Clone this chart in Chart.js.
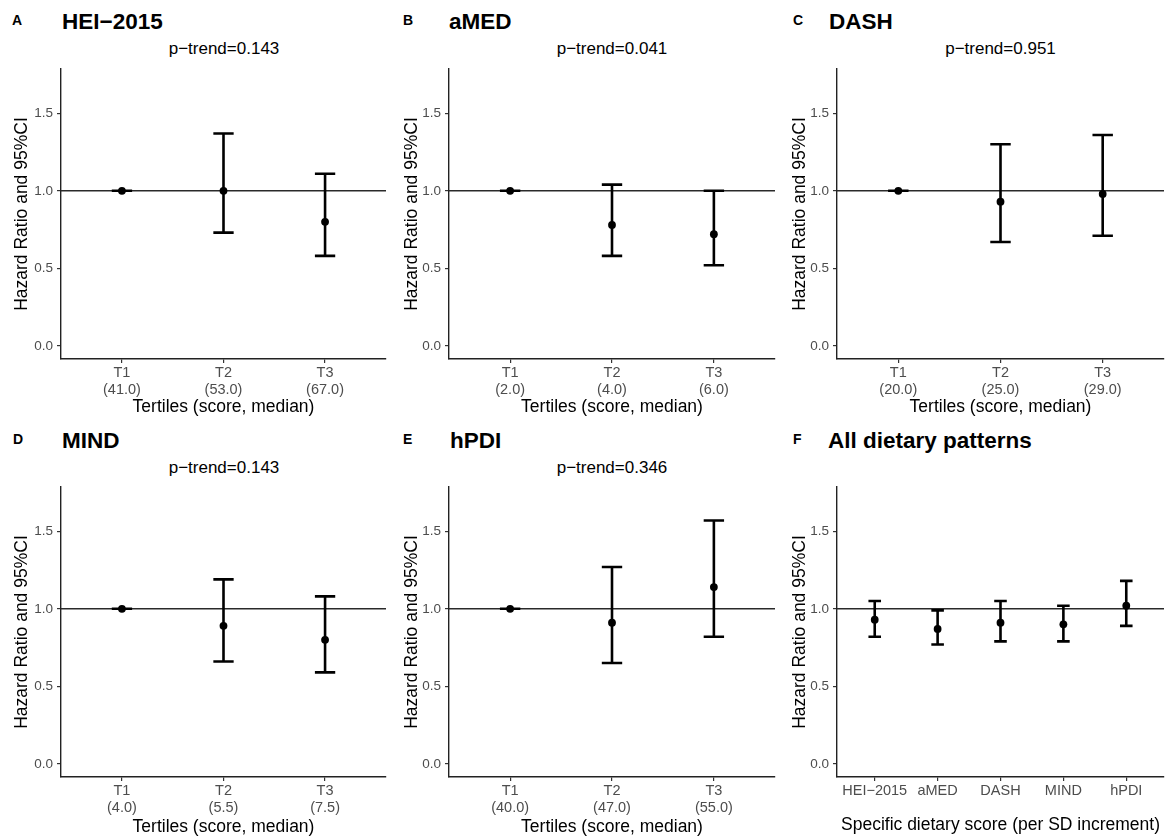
<!DOCTYPE html>
<html>
<head>
<meta charset="utf-8">
<script src="https://cdn.jsdelivr.net/npm/chart.js@4/dist/chart.umd.min.js"></script>
<style>
  html, body { margin:0; padding:0; background:#fff; }
  body { width:1169px; height:838px; position:relative; overflow:hidden; font-family:"Liberation Sans", Arial, sans-serif; }
  canvas { position:absolute; }
  .lbl { position:absolute; white-space:nowrap; line-height:1; color:#000; }
  .tag { font-weight:bold; font-size:14px; }
  .ttl { font-weight:bold; font-size:22.5px; }
  .ptr { font-size:17px; width:240px; text-align:center; }
</style>
</head>
<body>
<script>
/* hazard ratios by tertile */
const tertiles = ['T1', 'T2', 'T3'];
const yTicks = [0, 0.5, 1.0, 1.5];

const heiMedian = ['(41.0)', '(53.0)', '(67.0)'];
const heiHR   = [1.00, 1.00, 0.80];
const heiLow  = [1.00, 0.73, 0.58];
const heiHigh = [1.00, 1.37, 1.11];

const amedMedian = ['(2.0)', '(4.0)', '(6.0)'];
const amedHR   = [1.00, 0.78, 0.72];
const amedLow  = [1.00, 0.58, 0.52];
const amedHigh = [1.00, 1.04, 1.00];

const dashMedian = ['(20.0)', '(25.0)', '(29.0)'];
const dashHR   = [1.00, 0.93, 0.98];
const dashLow  = [1.00, 0.67, 0.71];
const dashHigh = [1.00, 1.30, 1.36];

const mindMedian = ['(4.0)', '(5.5)', '(7.5)'];
const mindHR   = [1.00, 0.89, 0.80];
const mindLow  = [1.00, 0.66, 0.59];
const mindHigh = [1.00, 1.19, 1.08];

const hpdiMedian = ['(40.0)', '(47.0)', '(55.0)'];
const hpdiHR   = [1.00, 0.91, 1.14];
const hpdiLow  = [1.00, 0.65, 0.82];
const hpdiHigh = [1.00, 1.27, 1.57];

const scoreNames = ['HEI\u22122015', 'aMED', 'DASH', 'MIND', 'hPDI'];
const perSdHR   = [0.93, 0.87, 0.91, 0.90, 1.02];
const perSdLow  = [0.82, 0.77, 0.79, 0.79, 0.89];
const perSdHigh = [1.05, 0.99, 1.05, 1.02, 1.18];

const pTrend = ['0.143', '0.041', '0.951', '0.143', '0.346'];

/* layout of the 2x3 grid */
const cols = [
  { left:0,   width:390, plotLeft:61,  plotRight:387,  yTitle:21.7 },
  { left:390, width:390, plotLeft:449, plotRight:775,  yTitle:22 },
  { left:780, width:389, plotLeft:837, plotRight:1164, yTitle:19.8 }
];
const rows = [
  { top:57,  height:363, plotBottom:359, dy:0,   xTitlePad:2.8 },
  { top:475, height:363, plotBottom:777, dy:419, xTitlePad:0.8 }
];

const panels = [
  { tag:'A', title:'HEI\u22122015', col:0, row:0, tagX:12,  titleX:62,  p:pTrend[0], hr:heiHR,  lo:heiLow,  hi:heiHigh,  labels:tertiles.map((t,i)=>[t, heiMedian[i]]),  xTitle:'Tertiles (score, median)' },
  { tag:'B', title:'aMED',         col:1, row:0, tagX:403, titleX:449, p:pTrend[1], hr:amedHR, lo:amedLow, hi:amedHigh, labels:tertiles.map((t,i)=>[t, amedMedian[i]]), xTitle:'Tertiles (score, median)' },
  { tag:'C', title:'DASH',         col:2, row:0, tagX:793, titleX:829, p:pTrend[2], hr:dashHR, lo:dashLow, hi:dashHigh, labels:tertiles.map((t,i)=>[t, dashMedian[i]]), xTitle:'Tertiles (score, median)' },
  { tag:'D', title:'MIND',         col:0, row:1, tagX:13,  titleX:62,  p:pTrend[3], hr:mindHR, lo:mindLow, hi:mindHigh, labels:tertiles.map((t,i)=>[t, mindMedian[i]]), xTitle:'Tertiles (score, median)' },
  { tag:'E', title:'hPDI',         col:1, row:1, tagX:403, titleX:450, p:pTrend[4], hr:hpdiHR, lo:hpdiLow, hi:hpdiHigh, labels:tertiles.map((t,i)=>[t, hpdiMedian[i]]), xTitle:'Tertiles (score, median)' },
  { tag:'F', title:'All dietary patterns', col:2, row:1, tagX:793, titleX:828, p:null, hr:perSdHR, lo:perSdLow, hi:perSdHigh, labels:scoreNames, xTitle:'Specific dietary score (per SD increment)', xTitlePad:2.8 }
];

function addText(cls, text, left, baseline, size){
  const d = document.createElement('div');
  d.className = 'lbl ' + cls;
  d.textContent = text;
  d.style.left = left + 'px';
  d.style.top = (baseline - 0.8465*size) + 'px';
  document.body.appendChild(d);
}

function drawPanel(p){
  const c = cols[p.col], r = rows[p.row];
  addText('tag', p.tag, p.tagX, 24.5 + r.dy, 14);
  addText('ttl', p.title, p.titleX, 30 + r.dy, 22.5);
  if(p.p) addText('ptr', 'p\u2212trend=' + p.p, (c.plotLeft + c.plotRight)/2 - 120, 54 + r.dy, 17);

  const cv = document.createElement('canvas');
  cv.width = c.width; cv.height = r.height;
  cv.style.left = c.left + 'px'; cv.style.top = r.top + 'px';
  cv.style.width = c.width + 'px'; cv.style.height = r.height + 'px';
  document.body.appendChild(cv);

  const n = p.hr.length;
  const xs = p.hr.map((_, i) => i + 1);
  const pts = xs.map((x, i) => ({x, y:p.hr[i]}));
  const bars = [];
  xs.forEach((x, i) => {
    bars.push({x, y:p.lo[i]}, {x, y:p.hi[i]}, {x, y:null});
    bars.push({x:x-0.1, y:p.hi[i]}, {x:x+0.1, y:p.hi[i]}, {x, y:null});
    bars.push({x:x-0.1, y:p.lo[i]}, {x:x+0.1, y:p.lo[i]}, {x, y:null});
  });
  const ref = [{x:0.4, y:1}, {x:n+0.6, y:1}];

  const yW = c.plotLeft - c.left;
  const xH = r.top + r.height - r.plotBottom;
  const xPad = p.xTitlePad !== undefined ? p.xTitlePad : r.xTitlePad;

  new Chart(cv.getContext('2d'), {
    type:'scatter',
    data:{ datasets:[
      { data:pts, pointRadius:3.9, pointBackgroundColor:'#000', pointBorderWidth:0, showLine:false },
      { data:bars, showLine:true, spanGaps:false, borderColor:'#000', borderWidth:2.6, pointRadius:0, borderCapStyle:'butt' },
      { data:ref, showLine:true, borderColor:'#2a2a2a', borderWidth:1.6, pointRadius:0 }
    ]},
    options:{
      responsive:false, animation:false, devicePixelRatio:1,
      layout:{ padding:{ top:10, left:0, bottom:0, right:c.width - (c.plotRight - c.left) } },
      plugins:{ legend:{display:false}, tooltip:{enabled:false} },
      scales:{
        x:{
          type:'linear', min:0.4, max:n+0.6,
          afterBuildTicks: s => { s.ticks = xs.map(v => ({value:v})); },
          afterFit: s => { s.height = xH; },
          ticks:{ autoSkip:false, maxRotation:0, padding:1, color:'#4d4d4d',
                  font:{ family:'"Liberation Sans", Arial, sans-serif', size:14.5 },
                  callback:(v, i) => p.labels[i] },
          grid:{ drawOnChartArea:false, drawTicks:true, tickLength:4, color:'#333', lineWidth:1.2 },
          border:{ color:'#222', width:1.4 },
          title:{ display:true, text:p.xTitle, color:'#000', padding:{top:0, bottom:xPad},
                  font:{ family:'"Liberation Sans", Arial, sans-serif', size:17.5 } }
        },
        y:{
          min:-0.085, max:1.785,
          afterBuildTicks: s => { s.ticks = yTicks.map(v => ({value:v})); },
          afterFit: s => { s.width = yW; },
          ticks:{ padding:4, color:'#4d4d4d',
                  font:{ family:'"Liberation Sans", Arial, sans-serif', size:13.5 },
                  callback:v => v.toFixed(1) },
          grid:{ drawOnChartArea:false, drawTicks:true, tickLength:4, color:'#333', lineWidth:1.2 },
          border:{ color:'#222', width:1.4 },
          title:{ display:true, text:'Hazard Ratio and 95%CI', color:'#000', padding:{top:c.yTitle - 10.5, bottom:0},
                  font:{ family:'"Liberation Sans", Arial, sans-serif', size:17.5 } }
        }
      }
    }
  });
}

panels.forEach(drawPanel);
</script>
</body>
</html>
